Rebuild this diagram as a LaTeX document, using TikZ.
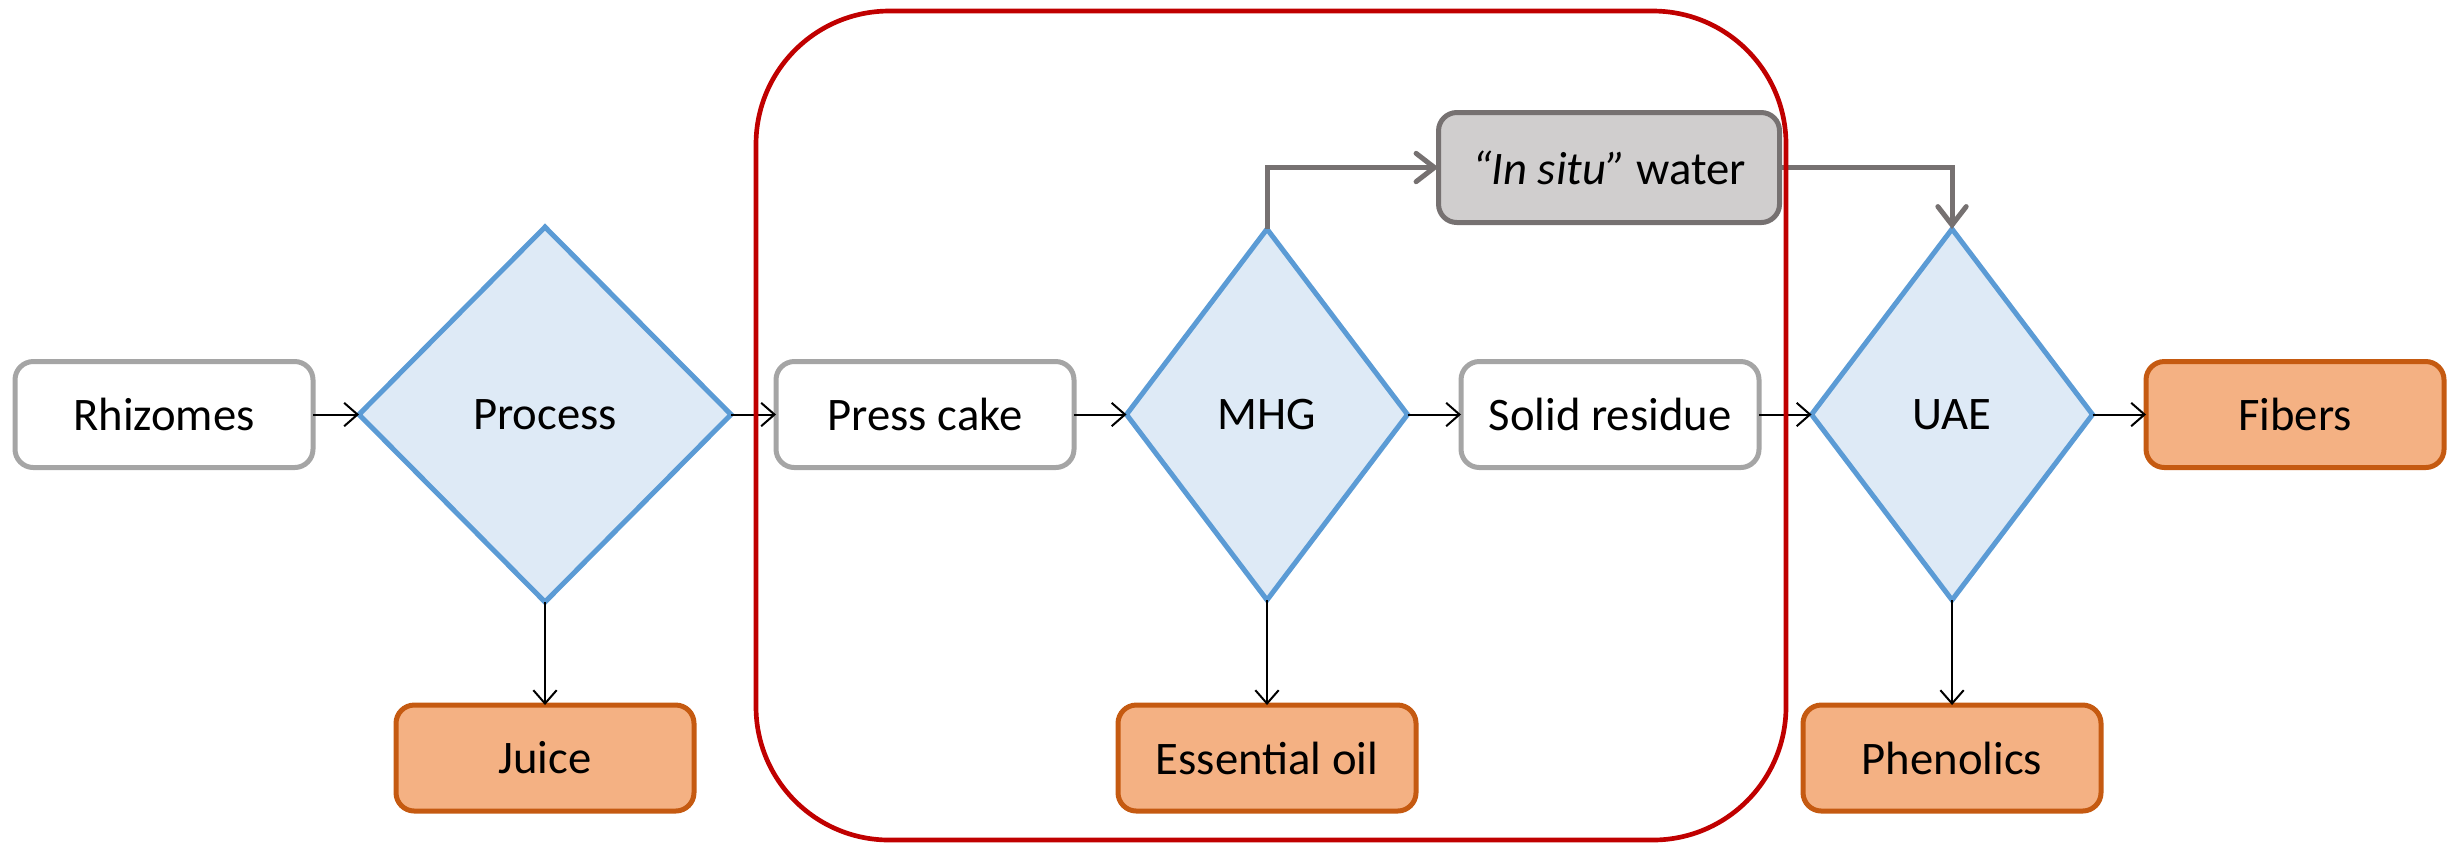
\documentclass[tikz,border=0pt]{standalone}
\usepackage{fontspec}
\setmainfont{Carlito}
\usetikzlibrary{shapes.geometric,arrows.meta}

\definecolor{boxgray}{HTML}{A5A5A5}
\definecolor{diafill}{HTML}{DEEAF6}
\definecolor{diaedge}{HTML}{5B9BD5}
\definecolor{prodfill}{HTML}{F4B183}
\definecolor{prodedge}{HTML}{C55A11}
\definecolor{waterfill}{HTML}{D0CECE}
\definecolor{wateredge}{HTML}{767171}
\definecolor{framered}{HTML}{C00000}

\begin{document}
\begin{tikzpicture}[x=0.3pt,y=-0.3pt,
  font=\fontsize{14}{16}\selectfont,
  base/.style={rounded corners=5.5pt, minimum width=89.4pt, minimum height=31.8pt,
    inner sep=0pt, outer sep=0pt, line width=1.5pt},
  material/.style={base, draw=boxgray, fill=white},
  product/.style={base, draw=prodedge, fill=prodfill},
  water/.style={base, draw=wateredge, fill=waterfill,
    minimum width=102.3pt, minimum height=33pt},
  op/.style={diamond, draw=diaedge, fill=diafill, line width=1.5pt,
    inner sep=0pt, outer sep=0pt, aspect=1, minimum height=111.3pt,
    minimum width=84.3pt},
  flow/.style={-{Straight Barb[length=4pt,width=7pt]}, line width=0.6pt, draw=black},
  recycle/.style={-{Straight Barb[length=5.5pt,width=8.5pt,line cap=round]},
    line width=1.5pt, draw=wateredge},
  frame/.style={draw=framered, line width=1.4pt, rounded corners=40pt}
]
\useasboundingbox (0,0) rectangle (2456,845);

% main line
\node[material] (rh)  at (164,414.5)  {Rhizomes};
\node[op, minimum width=111.6pt, minimum height=112.5pt] (pr) at (545,414.5) {Process};
\node[material] (pc)  at (925,414.5)  {Press cake};
\node[op] (mhg) at (1267,414.5) {MHG};
\node[material] (sr)  at (1610,414.5) {Solid residue};
\node[op] (uae) at (1952,414.5) {UAE};
\node[product] (fi)  at (2295,414.5) {Fibers};

% products
\node[product] (ju) at (545,758)  {Juice};
\node[product] (eo) at (1267,758) {Essential oil};
\node[product] (ph) at (1952,758) {Phenolics};

% water recovered by MHG
\node[water] (wa) at (1609,167.5) {\textit{“In situ”} water};

% connectors
\draw[flow] (rh.east) -- (pr.west);
\draw[flow] (pr.east) -- (pc.west);
\draw[flow] (pr.south) -- (ju.north);
\draw[flow] (pc.east) -- (mhg.west);
\draw[flow] (mhg.east) -- (sr.west);
\draw[flow] (mhg.south) -- (eo.north);
\draw[flow] (sr.east) -- (uae.west);
\draw[flow] (uae.east) -- (fi.west);
\draw[flow] (uae.south) -- (ph.north);
\draw[recycle] (mhg.north) |- (wa.west);
\draw[recycle] (wa.east) -| (uae.north);

% frame around the MHG stage
\coordinate (f1) at (756,11);
\coordinate (f2) at (1786,840);
\draw[frame] (f1) rectangle (f2);
\end{tikzpicture}
\end{document}
